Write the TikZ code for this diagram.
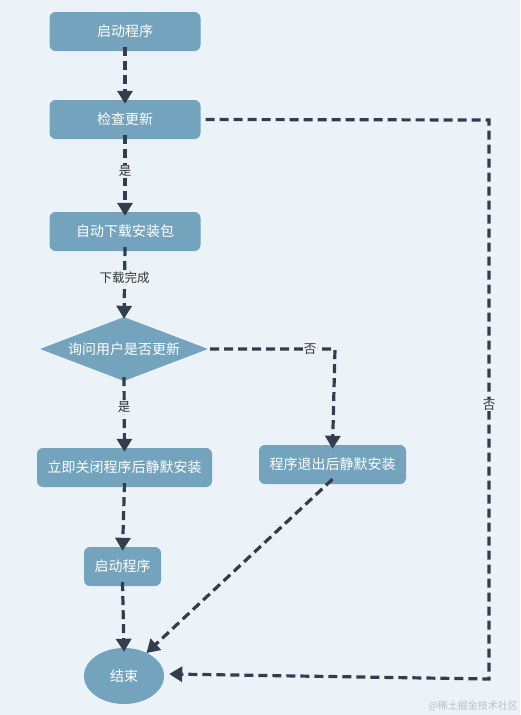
\documentclass[tikz,border=0pt]{standalone}
\usepackage{fontspec}
\setmainfont{Noto Sans CJK SC}
\usetikzlibrary{shapes.geometric,arrows.meta}
\definecolor{bgc}{HTML}{EBF3F8}
\definecolor{nodec}{HTML}{74A4BD}
\definecolor{linec}{HTML}{333D4D}
\definecolor{labc}{HTML}{333333}
\begin{document}
\begin{tikzpicture}[x=1pt,y=-1pt,
  box/.style={draw=none,fill=nodec,rounded corners=6pt,text=white,font=\fontsize{14}{16}\selectfont,minimum height=39pt,inner sep=0pt},
  dia/.style={diamond,aspect=2.6,fill=nodec,text=white,font=\fontsize{14}{16}\selectfont,minimum width=168pt,minimum height=64pt,inner sep=0pt},
  endc/.style={ellipse,fill=nodec,text=white,font=\fontsize{14}{16}\selectfont,minimum width=80pt,minimum height=56pt,inner sep=0pt},
  conn/.style={draw=linec,line width=3.2pt,dash pattern=on 9pt off 5pt,-{Triangle[length=13pt,width=15pt]}},
  lab/.style={fill=bgc,text=labc,font=\fontsize{12.5}{14}\selectfont,inner sep=1pt}
]
\fill[bgc] (0,0) rectangle (520,715);
\useasboundingbox (0,0) rectangle (520,715);
\node[box,minimum width=151pt] (start) at (125,31.5) {启动程序};
\node[box,minimum width=151pt] (check) at (125,119.5) {检查更新};
\node[box,minimum width=151pt] (down) at (125,231.5) {自动下载安装包};
\node[dia] (ask) at (124,349) {询问用户是否更新};
\node[box,minimum width=175pt] (now) at (124.5,467.5) {立即关闭程序后静默安装};
\node[box,minimum width=147pt] (later) at (332.5,464.5) {程序退出后静默安装};
\node[box,minimum width=77pt] (start2) at (122.5,566.5) {启动程序};
\node[endc] (end) at (124,676) {结束};
\coordinate (r1) at (489,120);
\coordinate (r2) at (489,679);
\coordinate (m1) at (335,349);
\draw[conn] ([yshift=4pt]start.south) -- ([yshift=-4pt]check.north);
\draw[conn] ([yshift=4pt]check.south) -- node[lab,pos=0.45] {是} ([yshift=-4pt]down.north);
\draw[conn] ([yshift=4pt]down.south) -- node[lab,pos=0.42] {下载完成} ([yshift=-2pt]ask.north);
\draw[conn] ([yshift=4pt]ask.south) -- node[lab,pos=0.4] {是} ([yshift=-4pt]now.north);
\draw[conn] ([yshift=4pt]now.south) -- ([yshift=-4pt]start2.north);
\draw[conn] ([yshift=4pt]start2.south) -- ([yshift=-4pt]end.north);
\draw[conn] ([xshift=2pt]ask.east) -- node[lab,pos=0.8] {否} (m1) -- ([yshift=-4pt]later.north);
\draw[conn] ([yshift=5pt]later.south) -- ([xshift=-6pt,yshift=3pt]end.north east);
\draw[conn] ([xshift=5pt]check.east) -- (r1) -- node[lab,pos=0.51] {否} (r2) -- ([xshift=5pt,yshift=2pt]end.east);
\node[text=black!25,font=\fontsize{10}{12}\selectfont,anchor=east,inner sep=0pt] (wm) at (518,706) {@稀土掘金技术社区};
\end{tikzpicture}
\end{document}
